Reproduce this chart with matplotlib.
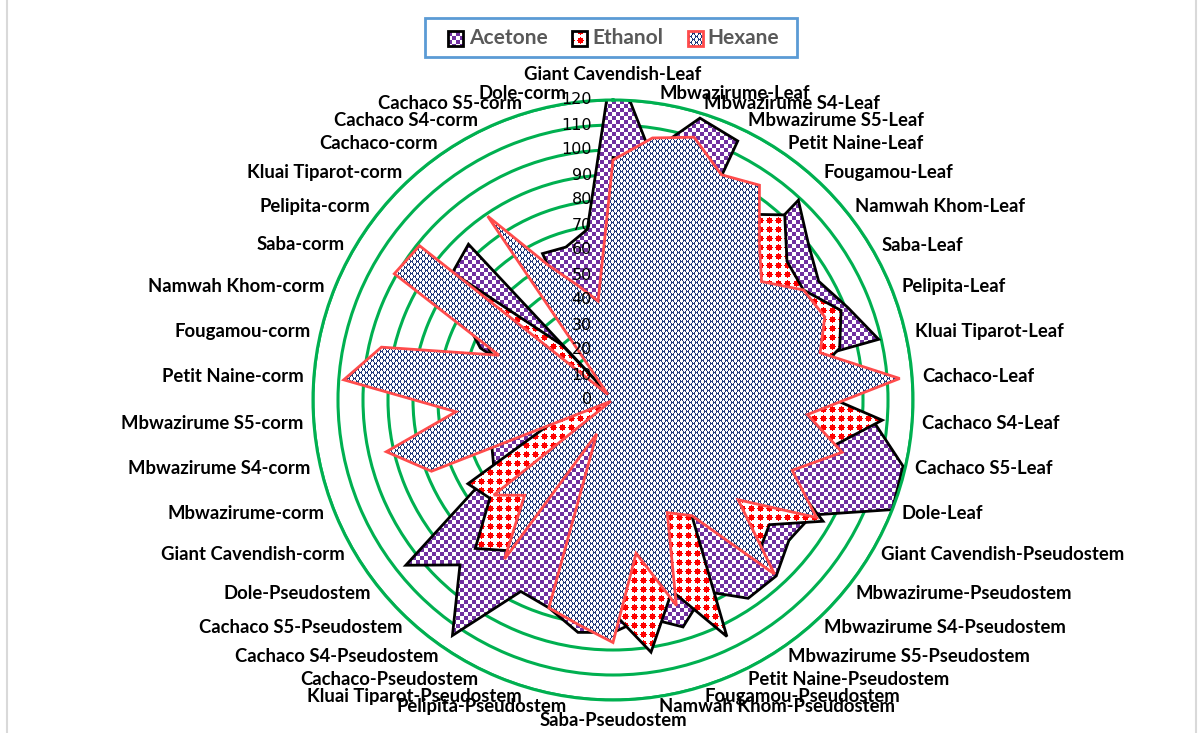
import numpy as np
import matplotlib
matplotlib.use("Agg")
import matplotlib.pyplot as plt
from matplotlib.image import BboxImage
from matplotlib.patches import Rectangle
from matplotlib.transforms import offset_copy

# ---- data -------------------------------------------------------------
cultivars = ["Giant Cavendish", "Mbwazirume", "Mbwazirume S4", "Mbwazirume S5",
             "Petit Naine", "Fougamou", "Namwah Khom", "Saba", "Pelipita",
             "Kluai Tiparot", "Cachaco", "Cachaco S4", "Cachaco S5", "Dole"]
parts = ["Leaf", "Pseudostem", "corm"]
categories = [f"{c}-{p}" for p in parts for c in cultivars]

acetone = [137, 100, 118, 115, 10, 109, 100, 95, 101, 109, 27, 104, 119, 120,
           92, 90, 96, 96, 85, 95, 88, 93, 94, 87, 85, 114, 90, 106,
           55, 52, 5, 10, 20, 35, 57, 70, 82, 85, 2, 65, 64, 69]
ethanol = [97, 95, 100, 95, 90, 101, 89, 88, 98, 93, 76, 108, 88, 72,
           97, 80, 85, 56, 105, 80, 102, 85, 70, 60, 10, 73, 81, 63,
           67, 28, 15, 20, 30, 40, 53, 60, 80, 30, 2, 20, 15, 10]
hexane = [96, 106, 110, 100, 104, 86, 76, 88, 91, 85, 115, 78, 94, 77,
          94, 64, 95, 56, 50, 86, 62, 97, 91, 87, 15, 77, 52, 61,
          1, 78, 93, 63, 108, 95, 49, 101, 99, 3, 89, 60, 48, 40]
series_names = ["Acetone", "Ethanol", "Hexane"]
r_ticks = list(range(0, 121, 10))
r_max = 120

# ---- figure -----------------------------------------------------------
W, H = 1202, 733
fig = plt.figure(figsize=(W / 100, H / 100), dpi=100)
fig.patch.set_facecolor("white")

cx, cy, R = 613, 400, 300
ax = fig.add_axes([(cx - R) / W, (H - cy - R) / H, 2 * R / W, 2 * R / H],
                  projection="polar")
ax.set_theta_zero_location("N")
ax.set_theta_direction(-1)
ax.set_ylim(0, r_max)
ax.set_xticks([])
ax.set_yticks(r_ticks[1:])
ax.set_yticklabels([])
ax.xaxis.grid(False)
ax.yaxis.grid(True, color="#00B050", lw=2.2)
ax.spines["polar"].set_color("#00B050")
ax.spines["polar"].set_linewidth(2.2)
ax.set_axisbelow(True)
ax.tick_params(length=0)

n = len(categories)
theta = np.linspace(0, 2 * np.pi, n, endpoint=False)


def texture(kind):
    yy, xx = np.mgrid[0:H, 0:W]
    img = np.full((H, W, 4), 255, dtype=np.uint8)
    if kind == "checker":
        m = ((xx // 4 + yy // 4) % 2) == 0
        img[m, :3] = (112, 48, 160)
    elif kind == "dots":
        p = 9
        dx = (xx % p) - (p - 1) / 2
        dy = (yy % p) - (p - 1) / 2
        m = (dx ** 2 + dy ** 2) <= 3.0 ** 2
        m |= (np.abs(dx) <= 0.5) & (np.abs(dy) <= 3.5)
        m |= (np.abs(dy) <= 0.5) & (np.abs(dx) <= 3.5)
        img[m, :3] = (255, 0, 0)
    else:
        p = 6
        m = ((xx + yy) % p == 0) | ((xx - yy) % p == 0)
        # small bars where the diagonals meet
        node = ((xx % p == 0) & (yy % p == 0)) | ((xx % p == 3) & (yy % p == 3))
        near = np.zeros_like(m)
        near[:, 1:] |= node[:, :-1]
        near[:, :-1] |= node[:, 1:]
        m |= near
        img[m, :3] = (31, 56, 122)
    return img


styles = [
    ("checker", "black"),
    ("dots", "black"),
    ("lattice", "#FF4B4B"),
]
textures = {}

for i, (vals, (kind, edge)) in enumerate(zip([acetone, ethanol, hexane], styles)):
    t = np.append(theta, theta[0])
    v = np.append(vals, vals[0])
    poly = ax.fill(t, v, facecolor="none", edgecolor=edge, lw=2,
                   joinstyle="miter", zorder=2 + i + 0.5)[0]
    tex = texture(kind)
    textures[kind] = tex
    im = BboxImage(fig.bbox, data=tex, interpolation="nearest", origin="upper")
    im.set_zorder(2 + i)
    ax.add_artist(im)
    im.set_clip_path(poly)
    im.set_clip_box(ax.bbox)

# radial value labels
tick_tr = offset_copy(ax.transData, fig=fig, x=-21, y=0, units="dots")
for v in r_ticks:
    ax.text(0, v, str(v), transform=tick_tr, ha="right", va="center",
            fontsize=11.5, color="black", zorder=10, family="DejaVu Sans")

# category labels
lab_r = 124
for k, name in enumerate(categories):
    s, c = np.sin(theta[k]), np.cos(theta[k])
    if abs(s) < 0.05:
        ha = "center"
        va = "bottom" if c > 0 else "top"
        rr = lab_r + (3 if c > 0 else 1)
    else:
        ha = "left" if s > 0 else "right"
        va = "center"
        rr = lab_r
    ax.text(theta[k], rr, name, ha=ha, va=va, fontsize=13.3, fontweight="bold",
            family="Lato", color="black", zorder=10)


# ---- legend -----------------------------------------------------------
def fx(x):
    return x / W


def fy(y):
    return 1 - y / H


box = Rectangle((fx(425), fy(57)), fx(797) - fx(425), fy(18) - fy(57),
                transform=fig.transFigure, facecolor="white",
                edgecolor="#5B9BD5", lw=2)
fig.add_artist(box)

leg_items = [(448, 469, "checker", "black"),
             (572, 592, "dots", "black"),
             (688, 707, "lattice", "#FF4B4B")]
for (ix, tx, kind, edge), name in zip(leg_items, series_names):
    sq = Rectangle((fx(ix), fy(46)), fx(ix + 15) - fx(ix), fy(31) - fy(46),
                   transform=fig.transFigure, facecolor="none",
                   edgecolor=edge, lw=2, zorder=5)
    fig.add_artist(sq)
    im = BboxImage(fig.bbox, data=textures[kind], interpolation="nearest",
                   origin="upper")
    im.set_zorder(4)
    fig.add_artist(im)
    im.set_clip_path(sq)
    fig.text(fx(tx), fy(38.5), name, ha="left", va="center", fontsize=15,
             fontweight="bold", family="Lato", color="#595959")

# outer frame edges
for xe in (6.5, 1195.5):
    fig.add_artist(plt.Line2D([fx(xe), fx(xe)], [0, 1], transform=fig.transFigure,
                              color="#D9D9D9", lw=1.5))

fig.savefig("out.png", dpi=100, facecolor="white")
